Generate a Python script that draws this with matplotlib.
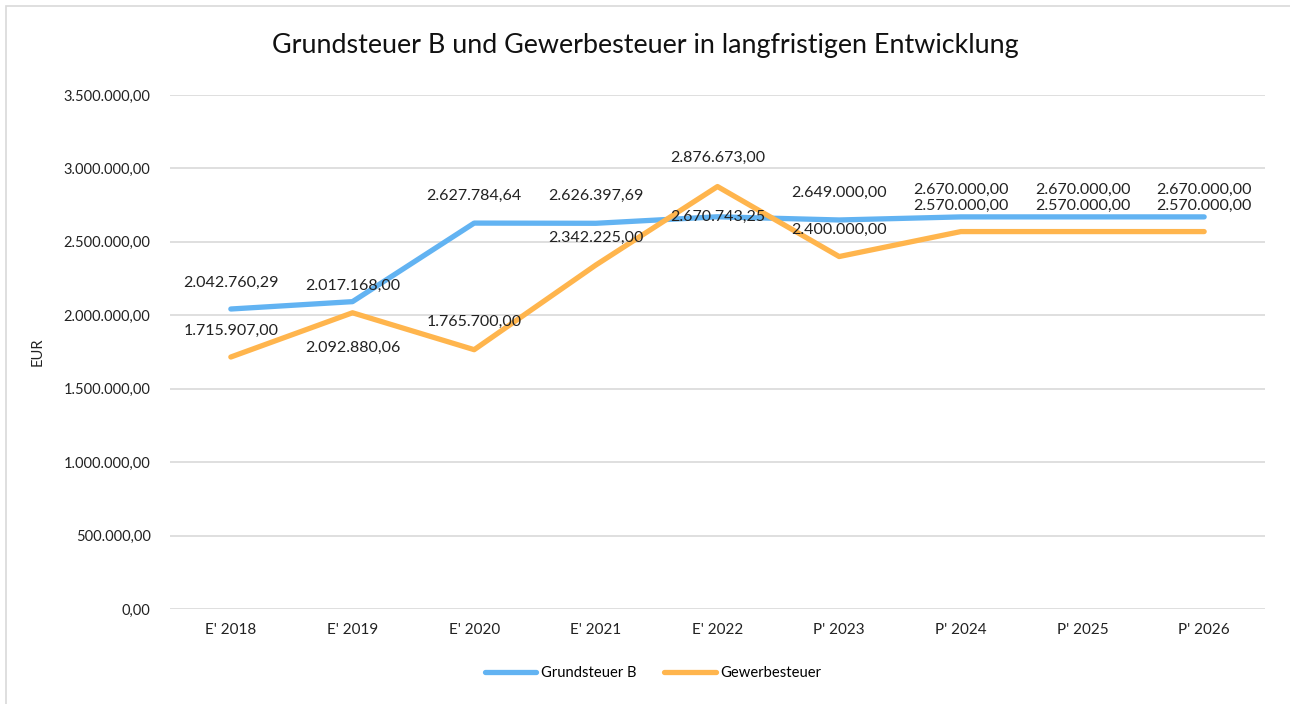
import numpy as np
import matplotlib.pyplot as plt
from matplotlib.patches import Rectangle

plt.rcParams['font.family'] = ['Lato', 'DejaVu Sans']

jahre = ["E' 2018", "E' 2019", "E' 2020", "E' 2021", "E' 2022",
         "P' 2023", "P' 2024", "P' 2025", "P' 2026"]
grundsteuer_b = [2042760.29, 2092880.06, 2627784.64, 2626397.69, 2670743.25,
                 2649000.00, 2670000.00, 2670000.00, 2670000.00]
gewerbesteuer = [1715907.00, 2017168.00, 1765700.00, 2342225.00, 2876673.00,
                 2400000.00, 2570000.00, 2570000.00, 2570000.00]

# Datenbeschriftungen wie im Original (2019 vertauscht)
labels_grund = ["2.042.760,29", "2.017.168,00", "2.627.784,64", "2.626.397,69", "2.670.743,25",
                "2.649.000,00", "2.670.000,00", "2.670.000,00", "2.670.000,00"]
labels_gewerbe = ["1.715.907,00", "2.092.880,06", "1.765.700,00", "2.342.225,00", "2.876.673,00",
                  "2.400.000,00", "2.570.000,00", "2.570.000,00", "2.570.000,00"]
offs_grund = [26, 16, 27, 27, 0, 27, 27, 27, 27]
offs_gewerbe = [26, -35, 28, 27, 29, 27, 26, 26, 26]

blau = "#62B3F2"
orange = "#FFB54D"


def fmt(v, pos=None):
    s = f"{v:,.2f}"
    return s.replace(",", "X").replace(".", ",").replace("X", ".")


def main():
    fig = plt.figure(figsize=(12.9, 7.04), dpi=100)
    fig.patches.append(Rectangle((6 / 1290, -0.01), 1.01, 1 - 6 / 704 + 0.01,
                                 transform=fig.transFigure, fill=False,
                                 edgecolor="#D9D9D9", linewidth=1.2))
    ax = fig.add_axes([170 / 1290, 95 / 704, 1095 / 1290, 514 / 704])
    x = np.arange(len(jahre))

    ax.plot(x, grundsteuer_b, color=blau, lw=3.8, solid_capstyle="round",
            solid_joinstyle="round", label="Grundsteuer B", zorder=3)
    ax.plot(x, gewerbesteuer, color=orange, lw=3.8, solid_capstyle="round",
            solid_joinstyle="round", label="Gewerbesteuer", zorder=3)

    for i in range(len(x)):
        ax.annotate(labels_grund[i], (x[i], grundsteuer_b[i]), xytext=(0, offs_grund[i]),
                    textcoords="offset pixels", ha="center", va="center",
                    fontsize=11.5, color="#222222", zorder=4)
        ax.annotate(labels_gewerbe[i], (x[i], gewerbesteuer[i]), xytext=(0, offs_gewerbe[i]),
                    textcoords="offset pixels", ha="center", va="center",
                    fontsize=11.5, color="#222222", zorder=4)

    ax.set_xlim(-0.5, len(jahre) - 0.5)
    ax.set_ylim(0, 3500000)
    ax.set_yticks(np.arange(0, 3500001, 500000))
    ax.yaxis.set_major_formatter(plt.FuncFormatter(fmt))
    ax.set_xticks(x)
    ax.set_xticklabels(jahre)
    ax.tick_params(axis="both", length=0, labelsize=10.5, labelcolor="#222222")
    ax.tick_params(axis="x", labelsize=11, pad=10)
    ax.tick_params(axis="y", pad=14)
    ax.grid(axis="y", color="#D9D9D9", lw=1.2)
    ax.set_axisbelow(True)
    for s in ax.spines.values():
        s.set_visible(False)

    ax.set_ylabel("EUR", fontsize=10.5, color="#222222", labelpad=14)
    fig.text(0.5, 1 - 45 / 704, "Grundsteuer B und Gewerbesteuer in langfristigen Entwicklung",
             ha="center", va="center", fontsize=19.4, color="#111111")
    fig.legend(loc="center", bbox_to_anchor=(653 / 1290, 1 - 673 / 704), ncol=2, frameon=False,
               fontsize=10.6, handlelength=3.5, columnspacing=1.9, handletextpad=0.3)

    fig.savefig("out.png", dpi=100)


main()
